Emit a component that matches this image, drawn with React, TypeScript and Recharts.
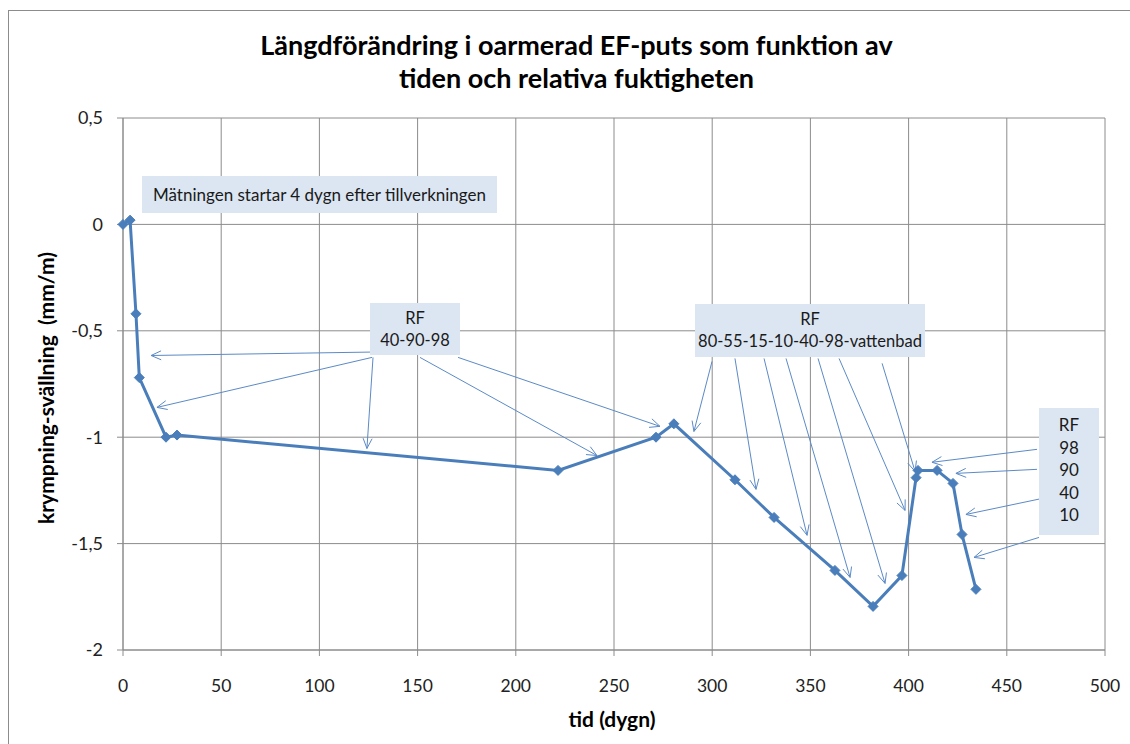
import { CartesianGrid, Line, LineChart, ReferenceLine, XAxis, YAxis } from "recharts";

// tid (dygn) och längdförändring (mm/m), avläst ur originalet
const days = [0, 3.6, 6.6, 8.3, 21.9, 27.5, 221.5, 271.4, 280.5, 311.6, 331.5, 362.5, 381.9, 396.6, 403.8, 404.8, 414.5, 422.6, 427.2, 434.3];
const strain = [0, 0.02, -0.42, -0.72, -1.0, -0.99, -1.156, -1.0, -0.937, -1.2, -1.377, -1.626, -1.795, -1.65, -1.19, -1.156, -1.156, -1.217, -1.457, -1.715];

const xTicks = [0, 50, 100, 150, 200, 250, 300, 350, 400, 450, 500];
const yTicks = [-2, -1.5, -1, -0.5, 0, 0.5];

// pilar från textrutorna: [x1, y1, x2, y2] i dataenheter
const arrowsRF1 = [
  [125.8, -0.6, 14.3, -0.616],
  [126.8, -0.625, 17.3, -0.86],
  [127.3, -0.625, 124.2, -1.053],
  [151.2, -0.625, 241.3, -1.086],
  [170.6, -0.625, 273.4, -0.949],
];
const arrowsRF2 = [
  [299.9, -0.644, 290.7, -0.973],
  [311.6, -0.63, 322.3, -1.245],
  [326.4, -0.63, 348.3, -1.461],
  [337.6, -0.63, 370.2, -1.659],
  [353.9, -0.63, 388, -1.687],
  [364.6, -0.63, 398.2, -1.344],
  [386.5, -0.653, 403.3, -1.161],
];
const arrowsRF3 = [
  [465.4, -1.057, 411.9, -1.118],
  [465.4, -1.151, 424.1, -1.17],
  [467.9, -1.288, 429.2, -1.363],
  [466.4, -1.471, 433.3, -1.565],
];

const data = days.map((d, i) => ({ tid: d, val: strain[i] }));

const BLUE = "#4a7ebb";
const GRID = "#8c8c8c";
const FONT = "Lato, 'Open Sans', sans-serif";

function Diamond(props: any) {
  const { cx, cy, index } = props;
  if (cx == null || cy == null) return <g key={index} />;
  const r = 5;
  return (
    <path
      key={index}
      d={`M${cx},${cy - r} L${cx + r},${cy} L${cx},${cy + r} L${cx - r},${cy} Z`}
      fill={BLUE}
      stroke={BLUE}
    />
  );
}

function Arrow(props: any) {
  const { x1, y1, x2, y2 } = props;
  const a = Math.atan2(y2 - y1, x2 - x1);
  const len = 11;
  const spread = 0.42;
  const p1 = [x2 - len * Math.cos(a - spread), y2 - len * Math.sin(a - spread)];
  const p2 = [x2 - len * Math.cos(a + spread), y2 - len * Math.sin(a + spread)];
  return (
    <g stroke="#5b8ac6" strokeWidth={1} fill="none">
      <line x1={x1} y1={y1} x2={x2} y2={y2} />
      <polyline points={`${p1[0]},${p1[1]} ${x2},${y2} ${p2[0]},${p2[1]}`} />
    </g>
  );
}

const boxStyle: React.CSSProperties = {
  position: "absolute",
  background: "#dce6f2",
  fontFamily: FONT,
  fontSize: 16.5,
  color: "#1a1a1a",
  textAlign: "center",
  lineHeight: "22px",
  whiteSpace: "nowrap",
};

export default function App() {
  const allArrows = [...arrowsRF1, ...arrowsRF2, ...arrowsRF3];
  return (
    <div style={{ position: "absolute", left: 0, top: 0, width: 1130, height: 744, background: "#fff", overflow: "hidden" }}>
      <div style={{ position: "absolute", left: 8, top: 10, width: 1200, height: 800, border: "1px solid #8c8c8c" }} />

      <div
        style={{
          position: "absolute",
          left: 0,
          top: 28,
          width: 1153,
          textAlign: "center",
          fontFamily: FONT,
          fontWeight: 700,
          fontSize: 27,
          lineHeight: "33px",
          color: "#000",
        }}
      >
        Längdförändring i oarmerad EF-puts som funktion av
        <br />
        tiden och relativa fuktigheten
      </div>

      <div style={{ position: "absolute", left: 0, top: 0 }}>
        <LineChart width={1130} height={744} data={data} margin={{ top: 118, right: 25, bottom: 34, left: 63 }}>
          <CartesianGrid stroke={GRID} strokeWidth={1} />
          <XAxis
            dataKey="tid"
            type="number"
            domain={[0, 500]}
            ticks={xTicks}
            height={60}
            stroke={GRID}
            tickSize={6}
            tickMargin={24}
            tick={{ fill: "#222", fontSize: 17.5, fontFamily: FONT }}
          />
          <YAxis
            type="number"
            domain={[-2, 0.5]}
            ticks={yTicks}
            width={60}
            stroke={GRID}
            tickSize={6}
            tickMargin={14}
            tickFormatter={(v: number) => String(v).replace(".", ",")}
            tick={{ fill: "#222", fontSize: 18, fontFamily: FONT }}
          />
          {allArrows.map((a, i) => (
            <ReferenceLine
              key={i}
              segment={[{ x: a[0], y: a[1] }, { x: a[2], y: a[3] }]}
              ifOverflow="visible"
              shape={Arrow}
            />
          ))}
          <Line
            type="linear"
            dataKey="val"
            stroke={BLUE}
            strokeWidth={3}
            dot={Diamond}
            activeDot={false}
            isAnimationActive={false}
          />
        </LineChart>
      </div>

      <div style={{ ...boxStyle, left: 142, top: 176, width: 355, height: 37, lineHeight: "37px", fontSize: 17 }}>
        Mätningen startar 4 dygn efter tillverkningen
      </div>
      <div style={{ ...boxStyle, left: 370, top: 303, width: 90, height: 52, paddingTop: 4, boxSizing: "border-box" }}>
        RF
        <br />
        40-90-98
      </div>
      <div style={{ ...boxStyle, left: 695, top: 304, width: 230, height: 53, paddingTop: 4, boxSizing: "border-box" }}>
        RF
        <br />
        80-55-15-10-40-98-vattenbad
      </div>
      <div
        style={{
          ...boxStyle,
          left: 1039,
          top: 408,
          width: 60,
          height: 127,
          paddingTop: 6,
          lineHeight: "22.5px",
          fontSize: 17,
          boxSizing: "border-box",
        }}
      >
        RF
        <br />
        98
        <br />
        90
        <br />
        40
        <br />
        10
      </div>

      <div
        style={{
          position: "absolute",
          left: 612,
          top: 718,
          transform: "translate(-50%, -50%)",
          fontFamily: FONT,
          fontWeight: 700,
          fontSize: 21,
          whiteSpace: "nowrap",
        }}
      >
        tid (dygn)
      </div>
      <div
        style={{
          position: "absolute",
          left: 45,
          top: 388,
          transform: "translate(-50%, -50%) rotate(-90deg)",
          fontFamily: FONT,
          fontWeight: 700,
          fontSize: 21,
          whiteSpace: "pre",
        }}
      >
        krympning-svällning  (mm/m)
      </div>
    </div>
  );
}
